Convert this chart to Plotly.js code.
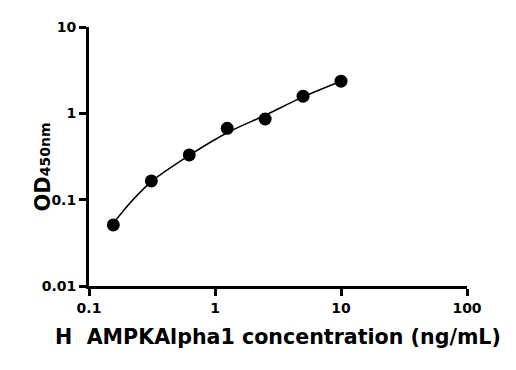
<!DOCTYPE html>
<html>
<head>
<meta charset="utf-8">
<script src="https://cdn.plot.ly/plotly-3.0.1.min.js"></script>
<style>html,body{margin:0;padding:0;background:#fff;}#chart{width:516px;height:370px;}</style>
</head>
<body>
<div id="chart"></div>
<script>
// measured standards
var concentration = [0.156, 0.3125, 0.625, 1.25, 2.5, 5, 10];
var od450 = [0.051, 0.165, 0.33, 0.67, 0.86, 1.58, 2.36];
// fitted curve
var fitConcentration = [0.156, 0.18, 0.211, 0.3125, 0.625, 1.25, 2.5, 5, 10];
var fitOd = [0.0537, 0.0692, 0.0912, 0.162, 0.326, 0.596, 0.95, 1.55, 2.35];
// tick labels
var xTickVals = [0.1, 1, 10, 100];
var xTickText = ["0.1", "1", "10", "100"];
var yTickVals = [0.01, 0.1, 1, 10];
var yTickText = ["0.01", "0.1", "1", "10"];

var FONT = "DejaVu Sans, Liberation Sans, sans-serif";

var traces = [
  {
    x: fitConcentration, y: fitOd, type: "scatter", mode: "lines",
    line: {color: "#000", width: 1.5, shape: "spline", smoothing: 0.8},
    hoverinfo: "skip", showlegend: false
  },
  {
    x: concentration, y: od450, type: "scatter", mode: "markers",
    marker: {color: "#000", size: 13, symbol: "circle"},
    showlegend: false
  }
];

var layout = {
  width: 516, height: 370,
  margin: {l: 89, r: 49, t: 27, b: 84},
  paper_bgcolor: "#fff", plot_bgcolor: "#fff",
  font: {family: FONT, color: "#000"},
  xaxis: {
    type: "log", range: [-1, 2],
    showline: true, linewidth: 3, linecolor: "#000",
    showgrid: false, zeroline: false,
    ticks: "outside", ticklen: 7, tickwidth: 3, tickcolor: "#000",
    tickvals: xTickVals, ticktext: xTickText,
    tickfont: {family: FONT, size: 14, color: "#000", weight: "bold"},
    title: {text: "H\u00a0 AMPKAlpha1 concentration (ng/mL)", font: {family: FONT, size: 20.6, color: "#000", weight: "bold"}, standoff: 15}
  },
  yaxis: {
    type: "log", range: [-2, 1],
    showline: true, linewidth: 3, linecolor: "#000",
    showgrid: false, zeroline: false,
    ticks: "outside", ticklen: 7, tickwidth: 3, tickcolor: "#000",
    tickvals: yTickVals, ticktext: yTickText,
    tickfont: {family: FONT, size: 14, color: "#000", weight: "bold"}
  },
  annotations: [{
    text: "OD<span style='font-size:14px'>450nm</span>",
    xref: "paper", yref: "paper", x: 0, y: 0.4575,
    xanchor: "center", yanchor: "middle", xshift: -46,
    textangle: -90, showarrow: false,
    font: {family: FONT, size: 21, color: "#000", weight: "bold"}
  }]
};

Plotly.newPlot("chart", traces, layout, {displayModeBar: false, staticPlot: true});
</script>
</body>
</html>
